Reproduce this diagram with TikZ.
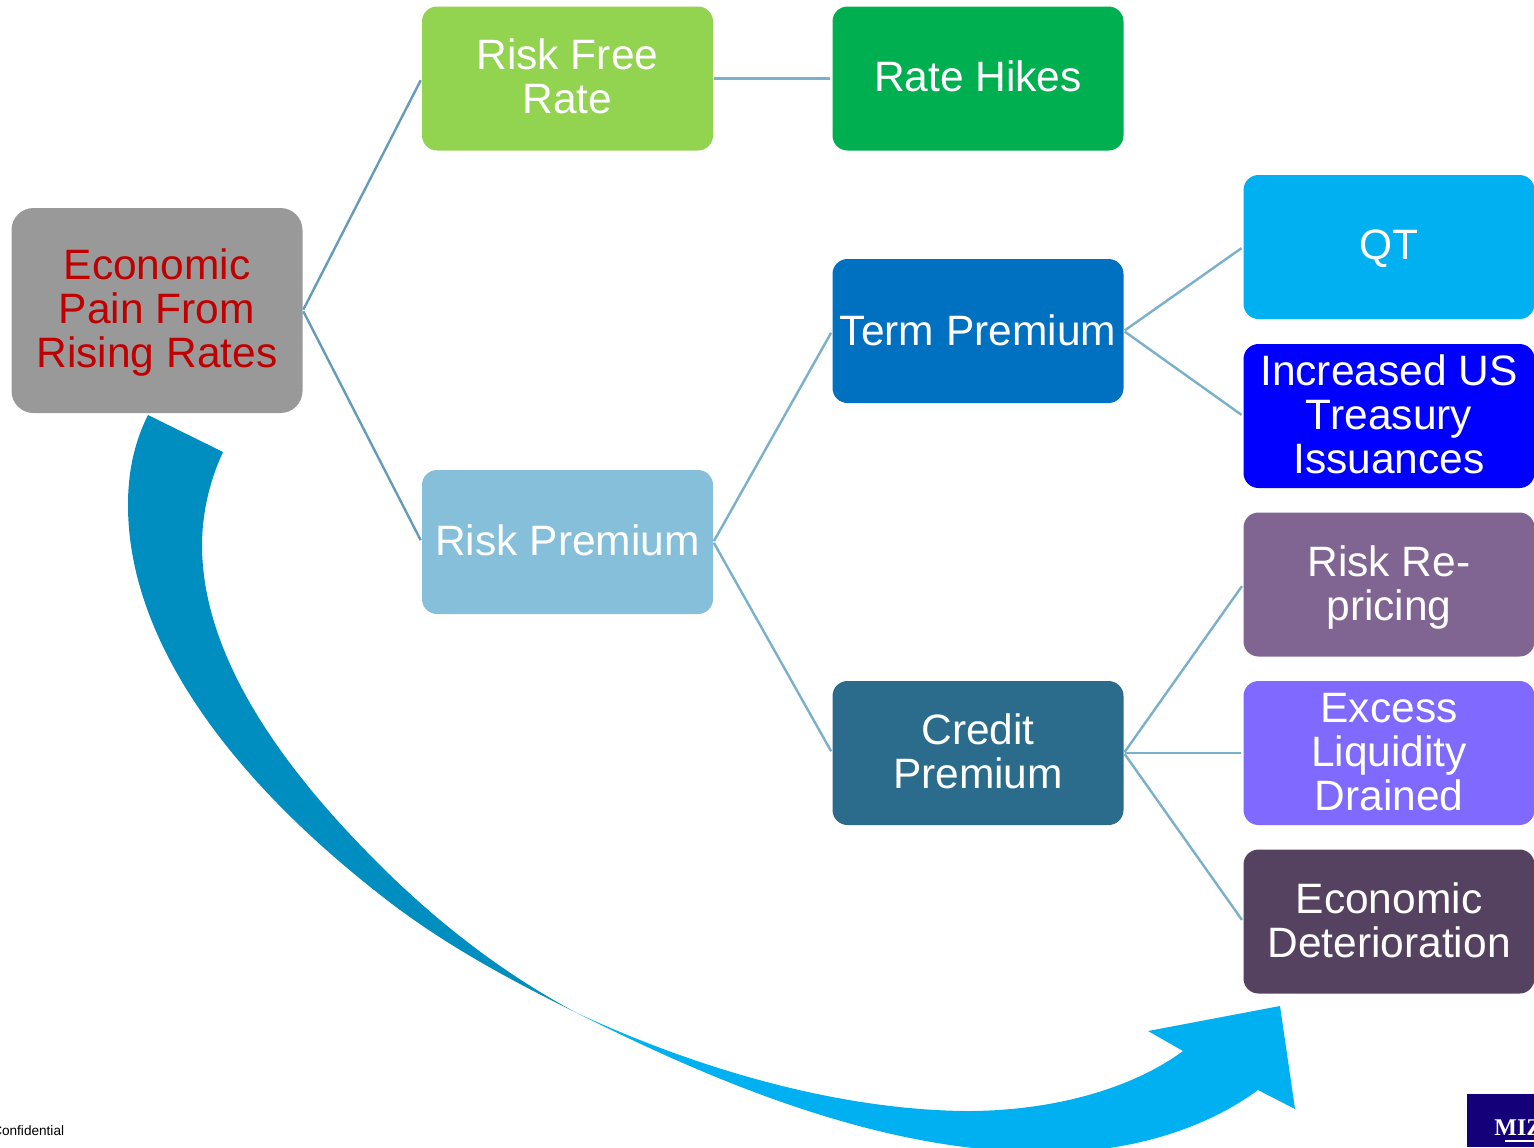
\documentclass[tikz,border=0pt]{standalone}
\usepackage{fontspec}
\setmainfont{Liberation Sans}
\newfontfamily\logofont{Liberation Serif}
\definecolor{cgray}{HTML}{999999}
\definecolor{cred}{HTML}{C00000}
\definecolor{cgreenl}{HTML}{92D350}
\definecolor{cgreen}{HTML}{00B050}
\definecolor{cblue}{HTML}{0070C0}
\definecolor{csky}{HTML}{00B0F0}
\definecolor{cpure}{HTML}{0000FF}
\definecolor{cpale}{HTML}{85BFDA}
\definecolor{cteal}{HTML}{2B6B8B}
\definecolor{cpurp}{HTML}{806491}
\definecolor{cviol}{HTML}{7F69FF}
\definecolor{cdark}{HTML}{554260}
\definecolor{cline}{HTML}{7AB0CA}
\definecolor{clinedark}{HTML}{669CB8}
\definecolor{carrow}{HTML}{008DC0}
\definecolor{clogo}{HTML}{140078}
\tikzset{
  box/.style={rounded corners=7.5pt,minimum width=145.5pt,minimum height=72pt,inner sep=0pt,anchor=center},
  boxtext/.style={inner sep=0pt,align=center,text=white,font=\fontsize{21.25}{22}\selectfont},
  link/.style={draw=cline,line width=1.2pt,shorten >=1pt,shorten <=0.5pt},
  linkdark/.style={link,draw=clinedark},
}
\begin{document}
\begin{tikzpicture}[x=0.5pt,y=-0.5pt]
\useasboundingbox (0,0) rectangle (1534,1147);
% curved arrow
\fill[carrow] (148,415) .. controls (133,445) and (128,475) .. (128,505)
  .. controls (128,644) and (235,782) .. (383,897)
  .. controls (443,944) and (510,980) .. (577,1013)
  .. controls (500,972) and (430,917) .. (367,852)
  .. controls (275,758) and (202,651) .. (202,545)
  .. controls (202,515) and (209,482) .. (223,452) -- cycle;
\fill[csky] (577,1013) .. controls (700,1070) and (840,1110) .. (967,1111)
  .. controls (1050,1111) and (1130,1090) .. (1183,1051)
  -- (1148,1031) -- (1280,1006) -- (1295,1109) -- (1258,1090)
  .. controls (1190,1140) and (1100,1155) .. (1035,1152)
  .. controls (880,1150) and (720,1085) .. (577,1013) -- cycle;
% boxes
\node[box,fill=cgray,rounded corners=11pt,minimum height=102.5pt,label={[boxtext,text=cred,yshift=-1pt]center:Economic\\Pain From\\Rising Rates}] (pain) at (157,310.5) {};
\node[box,fill=cgreenl,label={[boxtext,yshift=1pt]center:Risk Free\\Rate}] (free) at (567.5,78.5) {};
\node[box,fill=cgreen,label={[boxtext,yshift=1pt]center:Rate Hikes}] (hikes) at (978,78.5) {};
\node[box,fill=cpale,label={[boxtext,yshift=1pt]center:Risk Premium}] (prem) at (567.5,542) {};
\node[box,fill=cblue,label={[boxtext,yshift=0.5pt]center:Term Premium}] (term) at (978,331) {};
\node[box,fill=cteal,label={[boxtext,yshift=1pt]center:Credit\\Premium}] (credit) at (978,753) {};
\node[box,fill=csky,label={[boxtext,yshift=-1pt]center:QT}] (qt) at (1389,247) {};
\node[box,fill=cpure,label={[boxtext,yshift=1pt]center:Increased US\\Treasury\\Issuances}] (issu) at (1389,416) {};
\node[box,fill=cpurp,label={[boxtext,yshift=-1.5pt]center:Risk Re-\\pricing}] (repr) at (1389,584.5) {};
\node[box,fill=cviol,label={[boxtext,yshift=0.5pt]center:Excess\\Liquidity\\Drained}] (exc) at (1389,753) {};
\node[box,fill=cdark,label={[boxtext,yshift=0.5pt]center:Economic\\Deterioration}] (det) at (1389,921.5) {};
% connectors
\draw[linkdark] (pain.east) -- (free.west);
\draw[linkdark] (pain.east) -- (prem.west);
\draw[link] (free.east) -- (hikes.west);
\draw[link] (prem.east) -- (term.west);
\draw[link] (prem.east) -- (credit.west);
\draw[link] (term.east) -- (qt.west);
\draw[link] (term.east) -- (issu.west);
\draw[link] (credit.east) -- (repr.west);
\draw[link] (credit.east) -- (exc.west);
\draw[link] (credit.east) -- (det.west);
% footer
\node[anchor=east,inner sep=0pt,font=\fontsize{6.8}{8}\selectfont] (conf) at (64.5,1131) {Confidential};
\node[fill=clogo,anchor=north west,minimum width=33.5pt,minimum height=26.5pt,inner sep=0pt] (logo) at (1467,1094) {};
\node[anchor=west,inner sep=0pt,text=white,font=\logofont\bfseries\fontsize{12}{12}\selectfont] (miz) at (1494,1128) {MIZ};
\coordinate (ula) at (1505,1141);
\coordinate (ulb) at (1534,1141);
\draw[white,line width=0.8pt] (ula) -- (ulb);
\end{tikzpicture}
\end{document}
